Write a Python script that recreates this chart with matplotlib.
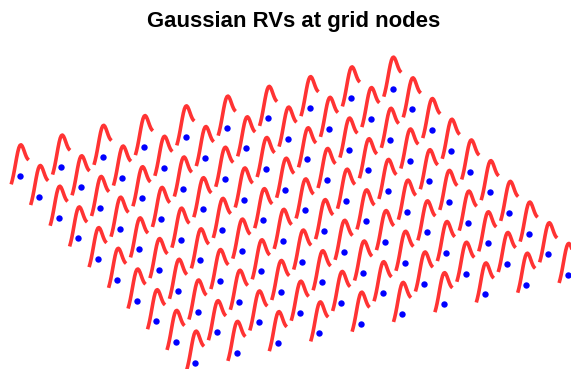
import numpy as np
import matplotlib
matplotlib.use("Agg")
import matplotlib.pyplot as plt

# grid node indices along each ground axis
node_x = [1, 2, 3, 4, 5, 6, 7, 8, 9, 10]
node_y = [1, 2, 3, 4, 5, 6, 7, 8, 9, 10]

# standard normal density, sampled on [-2, 2]
t = [-2.0, -1.75, -1.5, -1.25, -1.0, -0.75, -0.5, -0.25, 0.0,
     0.25, 0.5, 0.75, 1.0, 1.25, 1.5, 1.75, 2.0]
pdf = [0.0540, 0.0863, 0.1295, 0.1826, 0.2420, 0.3011, 0.3521, 0.3867, 0.3989,
       0.3867, 0.3521, 0.3011, 0.2420, 0.1826, 0.1295, 0.0863, 0.0540]

spread = 0.2  # ground offset of each density curve per unit of t

t = np.array(t)
pdf = np.array(pdf)
X, Y = np.meshgrid(node_x, node_y)

fig = plt.figure(figsize=(5.71, 3.69), dpi=100)
ax = fig.add_axes([0.006, -0.083, 1, 1], projection='3d',
                  proj_type='ortho', computed_zorder=False)
ax.view_init(elev=30, azim=-25.2)

# one density curve standing on every node
for x0, y0 in zip(X.ravel(), Y.ravel()):
    ax.plot(x0 - spread * t, y0 + spread * t, pdf, color='red', alpha=0.8,
            lw=2.6, solid_capstyle='butt', clip_on=False)

# the nodes themselves
ax.plot(X.ravel(), Y.ravel(), np.zeros(X.size), 'o', color='blue',
        ms=4.6, mec='none', lw=0, clip_on=False)

ax.set_xlim(1, 10)
ax.set_ylim(1, 10)
ax.set_zlim(0, 0.4)
ax.set_box_aspect((9, 9, 0.785), zoom=1.535)
ax.set_axis_off()

fig.text(0.515, 1 - 27.3 / 369, 'Gaussian RVs at grid nodes',
         ha='center', va='baseline', fontsize=15.9, fontweight='bold',
         family=['Liberation Sans', 'DejaVu Sans'])

fig.savefig('out.png', dpi=100)
